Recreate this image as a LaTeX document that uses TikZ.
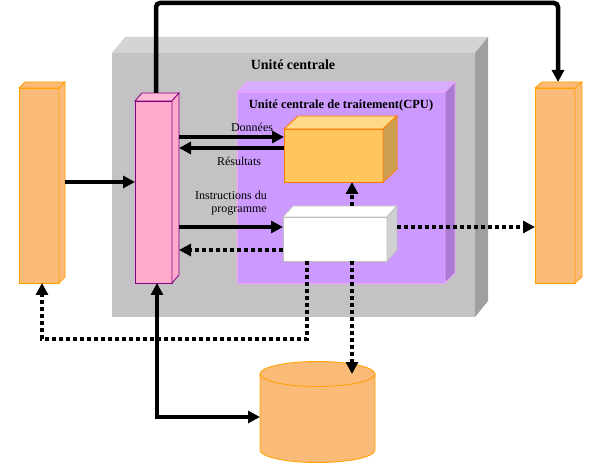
\documentclass[tikz,border=0pt]{standalone}
\usepackage{fontspec}
\setmainfont{Liberation Serif}
\usetikzlibrary{arrows.meta,calc}
\definecolor{gfr}{HTML}{C4C2C4}
\definecolor{gtp}{HTML}{D4D4D4}
\definecolor{gsd}{HTML}{A09EA0}
\definecolor{pfr}{HTML}{CC99FF}
\definecolor{ptp}{HTML}{D6ADFF}
\definecolor{psd}{HTML}{A97BD3}
\definecolor{pbd}{HTML}{F0A0FF}
\definecolor{afr}{HTML}{FFC660}
\definecolor{atp}{HTML}{FFD888}
\definecolor{asd}{HTML}{CCA050}
\definecolor{abd}{HTML}{FF8000}
\definecolor{kfr}{HTML}{FFAACC}
\definecolor{ktp}{HTML}{FFB8D8}
\definecolor{kbd}{HTML}{800080}
\definecolor{wsd}{HTML}{D0D0D0}
\definecolor{wbd}{HTML}{C0C0C0}
\definecolor{ofr}{HTML}{FABB78}
\definecolor{obd}{HTML}{FFA000}
\newcommand\cuboid[8]{%
  \node[#8front, anchor=south west, inner sep=0pt, outer sep=0pt,
        minimum width=#4pt, minimum height=#5pt] (#1) at (#2,#3) {};
  \coordinate (#1-nw) at ([shift={(#6,#7)}]#1.north west);
  \coordinate (#1-ne) at ([shift={(#6,#7)}]#1.north east);
  \coordinate (#1-se) at ([shift={(#6,#7)}]#1.south east);
  \path[#8top] (#1.north west) -- (#1-nw) -- (#1-ne) -- (#1.north east) -- cycle;
  \path[#8side] (#1.north east) -- (#1-ne) -- (#1-se) -- (#1.south east) -- cycle;
}
\tikzset{
  grayfront/.style={fill=gfr},
  graytop/.style={fill=gtp},
  grayside/.style={fill=gsd},
  purpfront/.style={fill=pfr,draw=pbd,line width=0.8pt},
  purptop/.style={fill=ptp,draw=pbd,line width=0.8pt},
  purpside/.style={fill=psd,draw=pbd,line width=0.8pt},
  alufront/.style={fill=afr,draw=abd,line width=0.9pt},
  alutop/.style={fill=atp,draw=abd,line width=0.9pt},
  aluside/.style={fill=asd,draw=abd,line width=0.9pt},
  pinkfront/.style={fill=kfr,draw=kbd,line width=0.8pt},
  pinktop/.style={fill=ktp,draw=kbd,line width=0.8pt},
  pinkside/.style={fill=kfr,draw=kbd,line width=0.8pt},
  whitefront/.style={fill=white,draw=wbd,line width=0.8pt},
  whitetop/.style={fill=white,draw=wbd,line width=0.8pt},
  whiteside/.style={fill=wsd,draw=wbd,line width=0.8pt},
  orfront/.style={fill=ofr,draw=obd,line width=0.8pt},
  ortop/.style={fill=ofr,draw=obd,line width=0.8pt},
  orside/.style={fill=ofr,draw=obd,line width=0.8pt},
  cylst/.style={fill=ofr,draw=obd,line width=0.9pt},
  sarr/.style={line width=4.5pt,-{Triangle[length=12pt,width=12pt]}},
  darr/.style={line width=4pt,dash pattern=on 4pt off 3pt,-{Triangle[length=12pt,width=12pt]}},
  lab/.style={font=\fontsize{12}{13}\selectfont,inner sep=0pt},
  bigt/.style={font=\fontsize{14}{16}\selectfont\bfseries,inner sep=0pt},
  cput/.style={font=\fontsize{12.5}{14}\selectfont\bfseries,inner sep=0pt},
}
\begin{document}
\begin{tikzpicture}[x=1pt,y=1pt]
\useasboundingbox (0,0) rectangle (599,474);
% boxes
\cuboid{uc}{112}{157}{363}{264}{13}{16}{gray}
\cuboid{pink}{135}{191}{37}{182}{7}{8}{pink}
\cuboid{cpu}{237}{191}{208}{191}{10}{10}{purp}
\cuboid{alu}{284}{292}{99}{53}{14}{13}{alu}
\cuboid{cu}{283}{213}{104}{44}{10}{11}{white}
\cuboid{lbar}{19}{191}{40}{195}{6}{6}{or}
\cuboid{rbar}{535}{191}{40}{195}{7}{6}{or}
% memory cylinder
\node[inner sep=0pt, outer sep=0pt, minimum width=115pt, minimum height=76pt] (mem) at (317.5,62) {};
\coordinate (memtop) at (317.5,100);
\path[cylst] (mem.north west) -- (mem.south west)
  arc[start angle=180,end angle=360,x radius=57.5,y radius=12.5] -- (mem.north east);
\path[cylst] (memtop) ellipse [x radius=57.5,y radius=12.5];
% texts
\node[bigt] (tuc) at (293,409) {Unité centrale};
\node[cput] (tcpu) at (341,369) {Unité centrale de traitement(CPU)};
\node[lab] (ldon) at (252,347) {Données};
\node[lab] (lres) at (239,313) {Résultats};
\node[lab, align=right, anchor=east] (lins) at (267,270.5) {Instructions du\\programme};
% connectors
\draw[sarr] (lbar-se |- 0,292) -- (pink.west |- 0,292);
\draw[sarr, rounded corners=4pt] (156,0 |- pink-nw) -- (156,471) -- (558,471) -- (558,0 |- rbar-nw);
\draw[sarr] (pink-se |- 0,337) -- (alu.west |- 0,337);
\draw[sarr] (alu.west |- 0,326) -- (pink-se |- 0,326);
\draw[sarr] (pink-se |- 0,247) -- (cu.west |- 0,247);
\draw[darr] (cu.west |- 0,224) -- (pink-se |- 0,224);
\draw[darr] (352,0 |- cu-nw) -- (352,0 |- alu.south);
\draw[darr] (cu-se |- 0,247) -- (rbar.west |- 0,247);
\draw[darr] (307,0 |- cu.south) -- (307,135) -- (42,135) -- (42,0 |- lbar.south);
\draw[darr] (352,0 |- cu.south) -- (352,0 |- memtop);
\draw[line width=4.5pt,{Triangle[length=12pt,width=12pt]}-{Triangle[length=12pt,width=12pt]}]
  (157,0 |- pink.south) -- (157,57) -- (mem.west |- 0,57);
\end{tikzpicture}
\end{document}
